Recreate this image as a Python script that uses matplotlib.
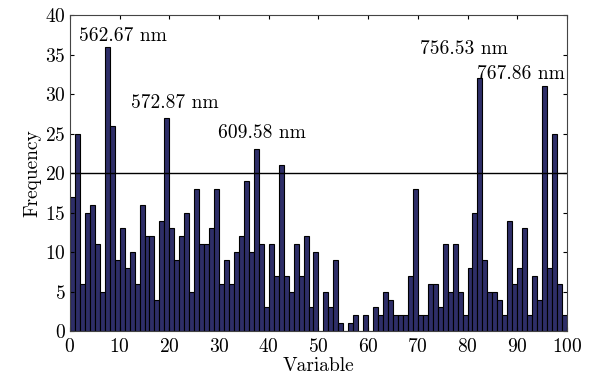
import numpy as np
import matplotlib
matplotlib.use('Agg')
from matplotlib import pyplot as plt

# counts per variable (1..100)
freq = [17, 25, 6, 15, 16, 11, 5, 36, 26, 9,
        13, 8, 10, 6, 16, 12, 12, 4, 14, 27,
        13, 9, 12, 15, 5, 18, 11, 11, 13, 18,
        6, 9, 6, 10, 12, 19, 10, 23, 11, 3,
        11, 7, 21, 7, 5, 11, 7, 12, 3, 10,
        0, 5, 3, 9, 1, 0, 1, 2, 0, 2,
        0, 3, 2, 5, 4, 2, 2, 2, 7, 18,
        2, 2, 6, 6, 3, 11, 5, 11, 5, 2,
        8, 15, 32, 9, 5, 5, 4, 2, 14, 6,
        8, 13, 2, 7, 4, 31, 8, 25, 6, 2]
threshold = 20

# peak labels and where they sit
peak_labels = ['562.67 nm', '572.87 nm', '609.58 nm', '756.53 nm', '767.86 nm']
peak_x = [1.8, 12.3, 29.7, 70.4, 82.0]
peak_y = [37.3, 28.9, 25.1, 35.7, 32.6]

plt.rcParams['font.family'] = 'cmr10'
plt.rcParams['mathtext.fontset'] = 'cm'
plt.rcParams['axes.formatter.use_mathtext'] = True

fig = plt.figure(figsize=(5.93, 3.78), dpi=100)
ax = fig.add_axes([0.118, 0.124, 0.838, 0.836])

x = np.arange(len(freq))
ax.bar(x, freq, width=1.0, align='edge', color='#2e2e68', edgecolor='black', linewidth=0.8)
ax.axhline(threshold, color='black', linewidth=1.0)

for lab, px, py in zip(peak_labels, peak_x, peak_y):
    ax.text(px, py, lab, fontsize=14, va='center', ha='left', clip_on=False)

ax.set_xlim(0, 100)
ax.set_ylim(0, 40)
ax.set_xticks(range(0, 101, 10))
ax.set_yticks(range(0, 41, 5))
ax.tick_params(axis='both', direction='in', top=True, right=True, labelsize=14, length=3)
ax.tick_params(axis='x', pad=5)
ax.tick_params(axis='y', pad=3)
ax.set_xlabel('Variable', fontsize=14, labelpad=0.5)
ax.set_ylabel('Frequency', fontsize=14, labelpad=3)
for s in ax.spines.values():
    s.set_linewidth(0.8)
    s.set_color('#444444')

fig.savefig('out.png', dpi=100)
